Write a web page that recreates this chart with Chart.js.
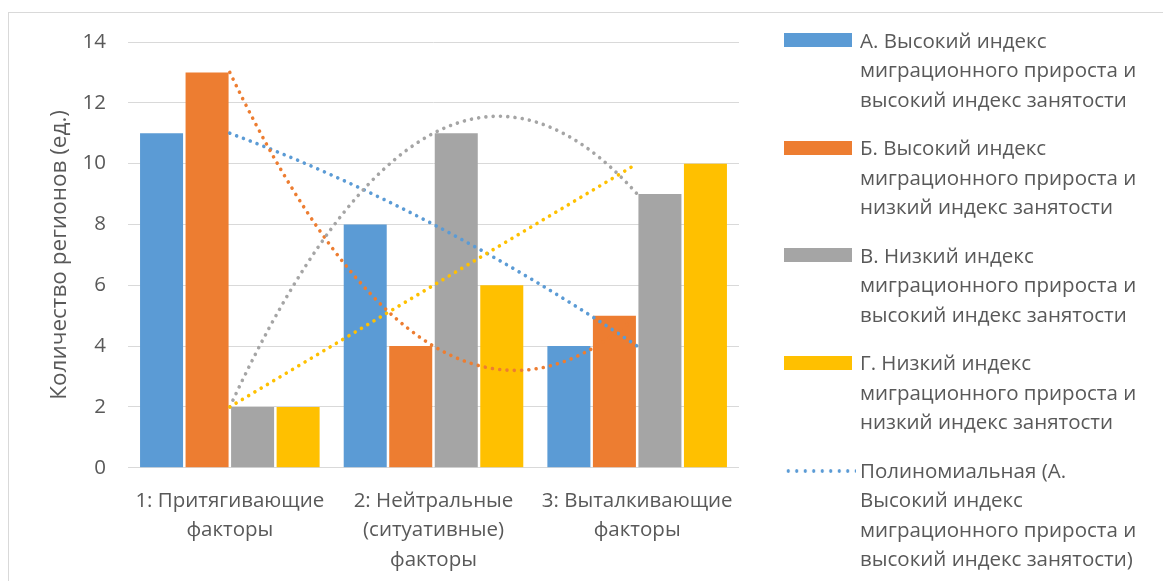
<!DOCTYPE html>
<html lang="ru">
<head>
<meta charset="utf-8">
<title>Количество регионов по типам факторов</title>
<script src="https://cdn.jsdelivr.net/npm/chart.js@4.4.1/dist/chart.umd.min.js"></script>
<style>
  html, body { margin: 0; padding: 0; background: #fff; }
  #wrap { position: relative; width: 1163px; height: 581px; overflow: hidden; background: #fff;
          font-family: 'Open Sans', sans-serif; }
  #frame { position: absolute; left: 8px; top: 12px; width: 1300px; height: 800px;
           border: 1px solid #d9d9d9; box-sizing: border-box; pointer-events: none; }
  #chart { position: absolute; left: 0; top: 0; }
  #legend { position: absolute; left: 784px; top: 0; width: 379px; height: 581px;
            color: #595959; font-size: 20.5px; line-height: 29.5px; }
  .entry { position: absolute; left: 0; width: 379px; }
  .swatch { position: absolute; left: 0; top: 7.7px; width: 68px; height: 14px; }
  .dots { position: absolute; left: 0; top: 13.4px; width: 72px; height: 4px; }
  .label { position: absolute; left: 76px; top: 0; white-space: nowrap; }
</style>
</head>
<body>
<div id="wrap">
  <canvas id="chart" width="1163" height="581"></canvas>
  <div id="frame"></div>
  <div id="legend"></div>
</div>
<script>
// Categories (multi-line axis labels)
const categories = [
  ['1: Притягивающие', 'факторы'],
  ['2: Нейтральные', '(ситуативные)', 'факторы'],
  ['3: Выталкивающие', 'факторы']
];

// Number of regions per group
const seriesA = [11, 8, 4];
const seriesB = [13, 4, 5];
const seriesC = [2, 11, 9];
const seriesD = [2, 6, 10];

// Series names, split into the lines shown in the legend
const seriesNames = [
  ['А. Высокий индекс', 'миграционного прироста и', 'высокий индекс занятости'],
  ['Б. Высокий индекс', 'миграционного прироста и', 'низкий индекс занятости'],
  ['В. Низкий индекс', 'миграционного прироста и', 'высокий индекс занятости'],
  ['Г. Низкий индекс', 'миграционного прироста и', 'низкий индекс занятости']
];
const trendLegendLines = ['Полиномиальная (А.', 'Высокий индекс', 'миграционного прироста и', 'высокий индекс занятости)'];

const seriesColors = ['#5B9BD5', '#ED7D31', '#A5A5A5', '#FFC000'];
const yAxisTitle = 'Количество регионов (ед.)';
const yMin = 0, yMax = 14, yStep = 2;

const textColor = '#595959';
const gridColor = '#D9D9D9';
const fontFamily = "'Open Sans', sans-serif";

// Least-squares polynomial (order 2) trendline, x = category index
function polyFit2(values) {
  const n = values.length;
  const s = [0, 0, 0, 0, 0];
  const t = [0, 0, 0];
  for (let i = 0; i < n; i++) {
    let p = 1;
    for (let k = 0; k < 5; k++) { s[k] += p; if (k < 3) t[k] += p * values[i]; p *= i; }
  }
  const m = [[s[0], s[1], s[2], t[0]], [s[1], s[2], s[3], t[1]], [s[2], s[3], s[4], t[2]]];
  for (let c = 0; c < 3; c++) {
    let piv = c;
    for (let r = c + 1; r < 3; r++) if (Math.abs(m[r][c]) > Math.abs(m[piv][c])) piv = r;
    [m[c], m[piv]] = [m[piv], m[c]];
    for (let r = 0; r < 3; r++) {
      if (r === c) continue;
      const f = m[r][c] / m[c][c];
      for (let k = c; k < 4; k++) m[r][k] -= f * m[c][k];
    }
  }
  return [m[0][3] / m[0][0], m[1][3] / m[1][1], m[2][3] / m[2][2]];
}

// Draws each bar series' polynomial trendline as a dotted curve over the bars
const trendlinePlugin = {
  id: 'polyTrendlines',
  afterDatasetsDraw(chart) {
    const ctx = chart.ctx;
    const xs = chart.scales.x, ys = chart.scales.y;
    chart.data.datasets.forEach((ds) => {
      const [c0, c1, c2] = polyFit2(ds.data);
      const f = (x) => c0 + c1 * x + c2 * x * x;
      const df = (x) => c1 + 2 * c2 * x;
      const x0 = 0, x1 = ds.data.length - 1;
      const xm = (x0 + x1) / 2;
      const ctrlY = f(x0) + df(x0) * (x1 - x0) / 2;
      ctx.save();
      ctx.strokeStyle = ds.backgroundColor;
      ctx.lineWidth = 3.6;
      ctx.lineCap = 'round';
      ctx.setLineDash([0.001, 7.3]);
      ctx.beginPath();
      ctx.moveTo(xs.getPixelForValue(x0), ys.getPixelForValue(f(x0)));
      ctx.quadraticCurveTo(xs.getPixelForValue(xm), ys.getPixelForValue(ctrlY),
                           xs.getPixelForValue(x1), ys.getPixelForValue(f(x1)));
      ctx.stroke();
      ctx.restore();
    });
  }
};

const seriesValues = [seriesA, seriesB, seriesC, seriesD];

new Chart(document.getElementById('chart'), {
  type: 'bar',
  data: {
    labels: categories,
    datasets: seriesValues.map((vals, i) => ({
      label: seriesNames[i].join(' '),
      data: vals,
      backgroundColor: seriesColors[i],
      borderWidth: 0,
      categoryPercentage: 0.894,
      barPercentage: 0.945
    }))
  },
  options: {
    responsive: false,
    devicePixelRatio: 1,
    animation: false,
    layout: { padding: { top: 42, right: 424, bottom: 0, left: 0 } },
    plugins: { legend: { display: false }, tooltip: { enabled: false } },
    scales: {
      x: {
        grid: { display: false, drawTicks: false },
        border: { display: false },
        ticks: {
          padding: 19, autoSkip: false, maxRotation: 0, minRotation: 0, color: textColor,
          font: { family: fontFamily, size: 20.5, lineHeight: '29.3px' }
        },
        afterFit(scale) { scale.height = 113.3; }
      },
      y: {
        min: yMin, max: yMax,
        grid: { color: gridColor, lineWidth: 1, drawTicks: false },
        border: { display: false },
        ticks: { stepSize: yStep, padding: 22, color: textColor, font: { family: fontFamily, size: 20.5 } },
        title: {
          display: true, text: yAxisTitle, color: textColor,
          font: { family: fontFamily, size: 22.5, lineHeight: 1.2 },
          padding: { top: 46, bottom: 0 }
        },
        afterFit(scale) { scale.width = 128; }
      }
    }
  },
  plugins: [trendlinePlugin]
});

// Legend: the four series, then the first trendline entry
(function buildLegend() {
  const legend = document.getElementById('legend');
  const step = 107.5, firstTop = 25.6;
  const entries = seriesNames.map((lines, i) => ({ lines, color: seriesColors[i], trend: false }));
  entries.push({ lines: trendLegendLines, color: seriesColors[0], trend: true });
  entries.forEach((e, i) => {
    const div = document.createElement('div');
    div.className = 'entry';
    div.style.top = (firstTop + i * step) + 'px';
    const mark = document.createElement('div');
    if (e.trend) {
      mark.className = 'dots';
      mark.style.backgroundImage = 'radial-gradient(circle, ' + e.color + ' 1.5px, transparent 2px)';
      mark.style.backgroundSize = '8.5px 4px';
    } else {
      mark.className = 'swatch';
      mark.style.background = e.color;
    }
    const label = document.createElement('div');
    label.className = 'label';
    e.lines.forEach((ln, k) => {
      if (k) label.appendChild(document.createElement('br'));
      label.appendChild(document.createTextNode(ln));
    });
    div.appendChild(mark);
    div.appendChild(label);
    legend.appendChild(div);
  });
})();
</script>
</body>
</html>
